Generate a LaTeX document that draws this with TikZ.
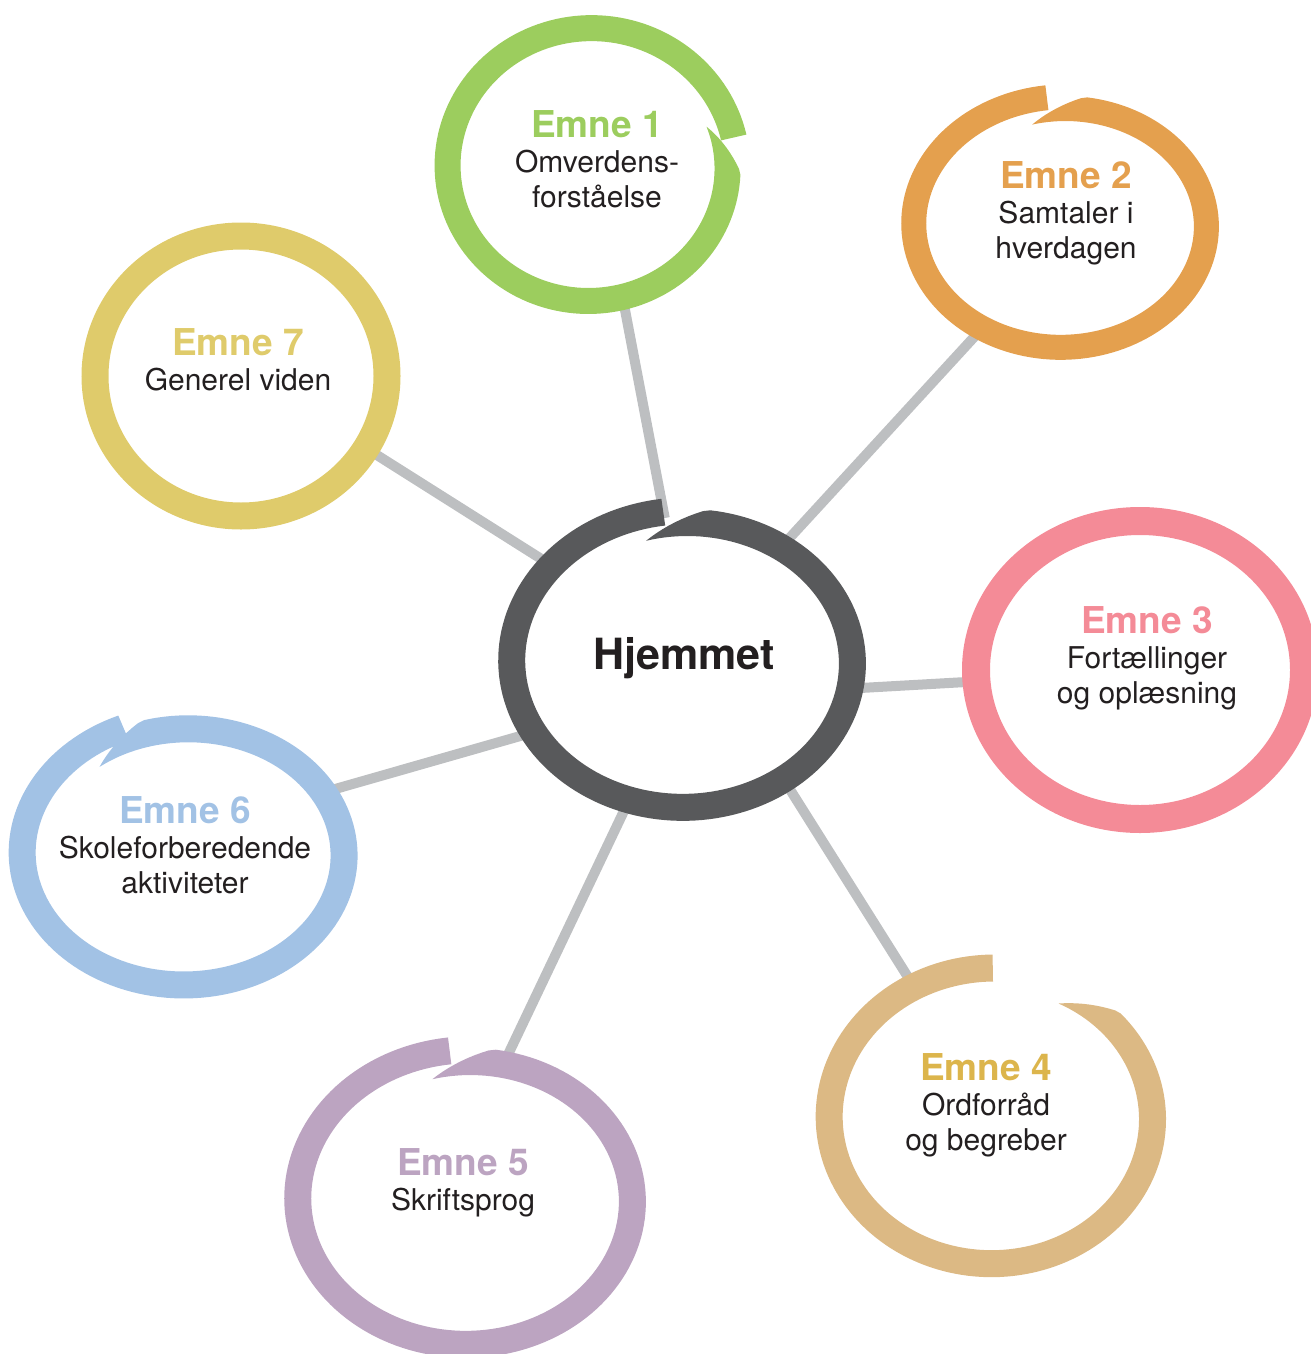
\documentclass[tikz,border=0pt]{standalone}
\usepackage{fontspec}
\setmainfont{TeX Gyre Heros}
\usetikzlibrary{shapes.geometric}
\definecolor{hubc}{HTML}{58595B}
\definecolor{linkc}{HTML}{BDBFC1}
\definecolor{ink}{HTML}{231F20}
\definecolor{greenc}{HTML}{9CCD5E}
\definecolor{orangec}{HTML}{E4A04E}
\definecolor{pinkc}{HTML}{F48B97}
\definecolor{tanc}{HTML}{DCB984}
\definecolor{goldt}{HTML}{DCB54C}
\definecolor{purplec}{HTML}{BCA4C1}
\definecolor{bluec}{HTML}{A2C2E5}
\definecolor{yellowc}{HTML}{DFCB6B}
\tikzset{
  anchorring/.style={ellipse, draw=none, inner sep=0pt, outer sep=0pt},
  link/.style={draw=linkc, line width=10pt},
  topic/.style={align=center, inner sep=0pt, text=ink, font=\fontsize{30}{34.5}\selectfont},
}
\newcommand{\emnehead}[2]{{\color{#1}\bfseries\fontsize{37}{40}\selectfont #2}}
% #1 cx, #2 cy, #3 rx, #4 ry, #5 width, #6 start angle, #7 sweep, #8 drift, #9 colour
\newcommand{\brushring}[9]{%
  \fill[#9] plot[domain=0:1, samples=160]
    ({#1 + (#3 - #5/2 + #8*(2*\x-1) + #5*min(1,\x/0.06))*cos(#6 + #7*\x)},
     {#2 + (#4 - #5/2 + #8*(2*\x-1) + #5*min(1,\x/0.06))*sin(#6 + #7*\x)})
    -- plot[domain=1:0, samples=160]
    ({#1 + (#3 - #5/2 + #8*(2*\x-1))*cos(#6 + #7*\x)},
     {#2 + (#4 - #5/2 + #8*(2*\x-1))*sin(#6 + #7*\x)}) -- cycle;}
\begin{document}
\begin{tikzpicture}[x=1pt,y=-1pt]
\useasboundingbox (0,0) rectangle (1311,1354);
\clip (0,0) rectangle (1311,1354);
% ring anchors (mid line of each brush ring)
\node[anchorring, minimum width=340pt, minimum height=290pt] (c) at (685,662) {};
\node[anchorring, minimum width=284pt, minimum height=272pt] (e1) at (590,167) {};
\node[anchorring, minimum width=292pt, minimum height=244pt] (e2) at (1063,225) {};
\node[anchorring, minimum width=328pt, minimum height=298pt] (e3) at (1140,670) {};
\node[anchorring, minimum width=324pt, minimum height=292pt] (e4) at (993,1118) {};
\node[anchorring, minimum width=334pt, minimum height=288pt] (e5) at (468,1200) {};
\node[anchorring, minimum width=320pt, minimum height=260pt] (e6) at (186,854) {};
\node[anchorring, minimum width=292pt, minimum height=280pt] (e7) at (241,376) {};
% connectors
\draw[link] (c.98) -- (e1.-76);
\draw[link] (c.50) -- (e2.-128);
\draw[link] (c.-9) -- (e3.184);
\draw[link] (c.-50) -- (e4.121);
\draw[link] (c.-112) -- (e5.75);
\draw[link] (c.205) -- (e6.24);
\draw[link] (c.144) -- (e7.-30);
% brush rings
\brushring{685}{662}{170}{145}{27}{255}{368}{6}{hubc}
\brushring{590}{167}{142}{136}{26}{340}{368}{5}{greenc}
\brushring{1063}{225}{146}{122}{25}{256}{368}{6}{orangec}
\draw[pinkc, line width=28pt] (1140,670) ellipse [x radius=164pt, y radius=149pt];
\brushring{993}{1118}{162}{146}{27}{297}{333}{4}{tanc}
\brushring{468}{1200}{167}{144}{27}{256}{368}{6}{purplec}
\brushring{186}{854}{160}{130}{27}{232}{376}{6}{bluec}
\draw[yellowc, line width=27pt] (241,376) ellipse [x radius=146pt, y radius=140pt];
% texts
\node[inner sep=0pt, text=ink, font=\bfseries\fontsize{43}{46}\selectfont] (th) at (684,658) {Hjemmet};
\node[topic] (t1) at (597,159) {\emnehead{greenc}{Emne 1}\\[1pt]Omverdens-\\forståelse};
\node[topic] (t2) at (1066,213) {\emnehead{orangec}{Emne 2}\\[1pt]Samtaler i\\hverdagen};
\node[topic] (t3) at (1147,658) {\emnehead{pinkc}{Emne 3}\\[1pt]Fortællinger\\og oplæsning};
\node[topic] (t4) at (986,1105) {\emnehead{goldt}{Emne 4}\\[1pt]Ordforråd\\og begreber};
\node[topic] (t5) at (463,1183) {\emnehead{purplec}{Emne 5}\\[1pt]Skriftsprog};
\node[topic] (t6) at (185,845) {\emnehead{bluec}{Emne 6}\\[1pt]Skoleforberedende\\aktiviteter};
\node[topic] (t7) at (238,360) {\emnehead{yellowc}{Emne 7}\\[1pt]Generel viden};
\end{tikzpicture}
\end{document}
